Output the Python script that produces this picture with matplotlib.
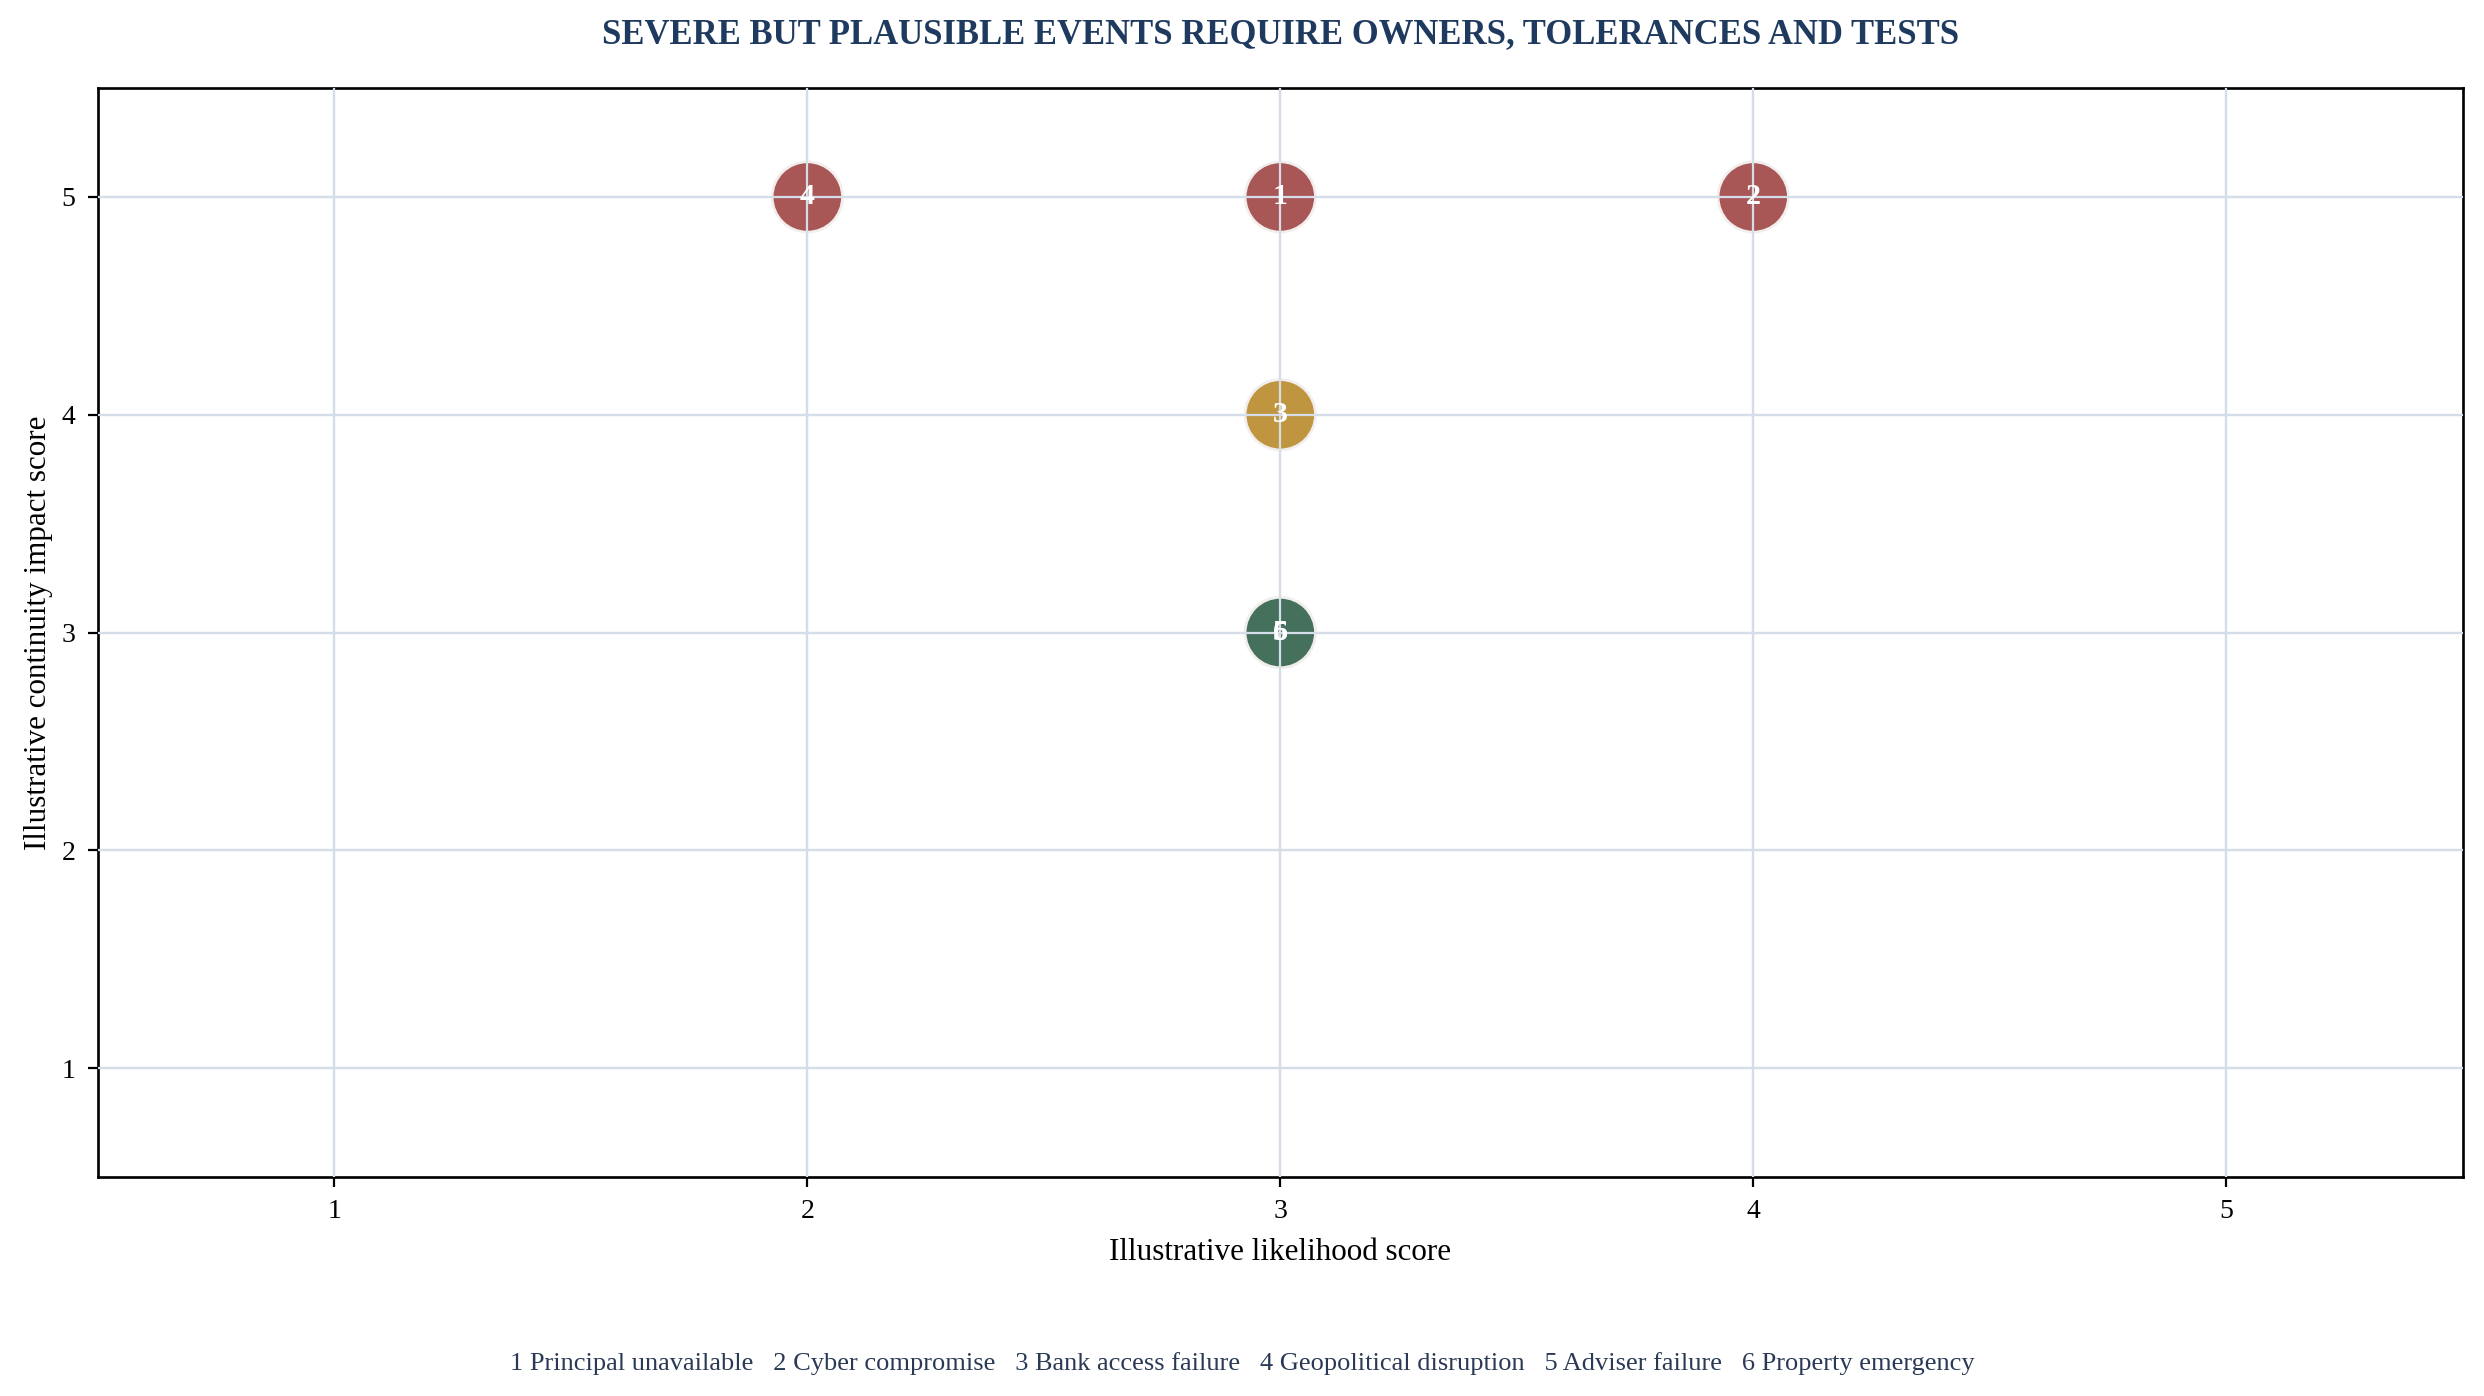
import matplotlib
matplotlib.use("Agg")
import matplotlib.pyplot as plt

plt.rcParams['font.family'] = ['Liberation Serif', 'DejaVu Serif']

ids = ["1", "2", "3", "4", "5", "6"]
names = ["Principal unavailable", "Cyber compromise", "Bank access failure",
         "Geopolitical disruption", "Adviser failure", "Property emergency"]
likelihood = [3, 4, 3, 2, 3, 3]
impact = [5, 5, 4, 5, 3, 3]
colors = ["#a85656", "#a85656", "#bf963f", "#a85656", "#45705c", "#45705c"]
ticks = [1, 2, 3, 4, 5]

fig = plt.figure(figsize=(15.53, 8.725), dpi=160)
ax = fig.add_axes([0.0394, 0.1569, 0.9517, 0.780])
ax.set_xlim(0.5, 5.5)
ax.set_ylim(0.5, 5.5)
ax.set_xticks(ticks)
ax.set_yticks(ticks)
ax.grid(True, color="#d5dde8", linewidth=1.0, zorder=0)
ax.set_axisbelow(True)
ax.tick_params(labelsize=12.5, length=4.5, width=1.0, pad=5.5)
for sp in ax.spines.values():
    sp.set_linewidth(1.2)
    sp.set_color("black")

ax.scatter(likelihood, impact, s=1000, c=colors, edgecolors="#f2eeee",
           linewidths=1.2, zorder=3)
for i, x, y in zip(ids, likelihood, impact):
    ax.text(x, y, i, ha="center", va="center", color="white",
            fontsize=13.5, fontweight="bold", zorder=4)
# grid lines appear over the markers in the reference
for t in ticks:
    ax.axvline(t, color="#d5dde8", linewidth=1.0, zorder=3.5)
    ax.axhline(t, color="#d5dde8", linewidth=1.0, zorder=3.5)

ax.set_xlabel("Illustrative likelihood score", fontsize=14, labelpad=6)
ax.set_ylabel("Illustrative continuity impact score", fontsize=14, labelpad=4)

fig.text(0.0394 + 0.9517 / 2, 0.975,
         "SEVERE BUT PLAUSIBLE EVENTS REQUIRE OWNERS, TOLERANCES AND TESTS",
         ha="center", va="center", fontsize=15.6, fontweight="bold", color="#1f3a5f")
legend_txt = "   ".join(f"{i} {n}" for i, n in zip(ids, names))
fig.text(0.5, 0.0235, legend_txt, ha="center", va="center", fontsize=11.9, color="#2a3a55")

fig.savefig("out.png", dpi=160)
